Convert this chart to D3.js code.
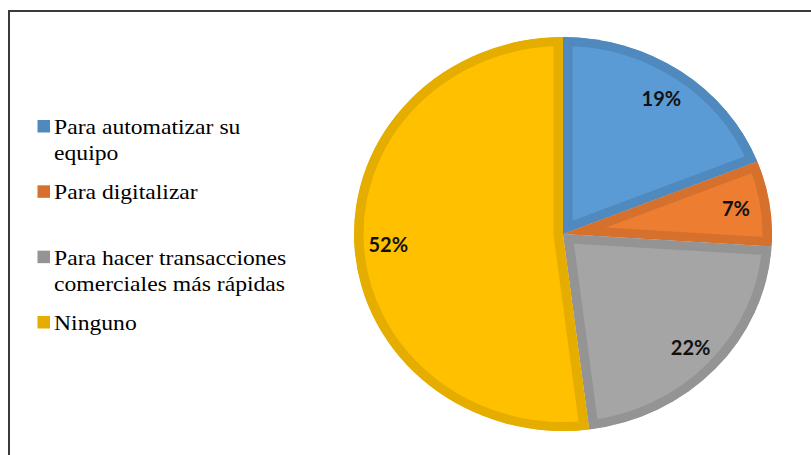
<!DOCTYPE html>
<html>
<head>
<meta charset="utf-8">
<script src="https://cdn.jsdelivr.net/npm/d3@7"></script>
<style>
  html, body { margin: 0; padding: 0; background: #fff; }
  svg { display: block; }
  svg text.legend-text, svg text.legend-text tspan {
    font-family: "Liberation Serif", Tinos, "Times New Roman", serif !important;
  }
</style>
</head>
<body>
<svg id="chart" width="811" height="455"></svg>
<script>
// Motivos de uso — porcentaje de respuestas
const categories = [
  "Para automatizar su equipo",
  "Para digitalizar",
  "Para hacer transacciones comerciales más rápidas",
  "Ninguno"
];
const legendLines = [
  ["Para automatizar su", "equipo"],
  ["Para digitalizar"],
  ["Para hacer transacciones", "comerciales más rápidas"],
  ["Ninguno"]
];
const values = [19, 7, 22, 52];
const fillColors = ["#5B9BD5", "#ED7D31", "#A5A5A5", "#FFC000"];
const edgeColors = ["#4F89BE", "#D5712D", "#949494", "#E5AD00"];

const svg = d3.select("#chart");

// outer frame (extends beyond the right and bottom edges)
svg.append("rect")
  .attr("x", 9).attr("y", 11)
  .attr("width", 900).attr("height", 900)
  .attr("fill", "none")
  .attr("stroke", "#3a3a3a")
  .attr("stroke-width", 2);

// pie geometry
const cx = 563, cy = 234;
const r = 197, stretchX = 209 / 197;
const labelR = 165;

const pie = d3.pie().value(d => d).sort(null);
const arcs = pie(values);
const arc = d3.arc().innerRadius(0).outerRadius(r);

const defs = svg.append("defs");
const pieG = svg.append("g")
  .attr("transform", `translate(${cx},${cy}) scale(${stretchX},1)`);

arcs.forEach((a, i) => {
  defs.append("clipPath").attr("id", "slice-clip-" + i)
    .append("path").attr("d", arc(a));
});

// each slice: fill plus an inner border of a darker tone
pieG.selectAll("path.slice")
  .data(arcs)
  .join("path")
  .attr("class", "slice")
  .attr("d", arc)
  .attr("fill", (d, i) => fillColors[i])
  .attr("stroke", (d, i) => edgeColors[i])
  .attr("stroke-width", 18)
  .attr("stroke-linejoin", "miter")
  .attr("clip-path", (d, i) => `url(#slice-clip-${i})`);

// percentage labels
const labelArc = d3.arc().innerRadius(labelR).outerRadius(labelR);
svg.selectAll("text.pct")
  .data(arcs)
  .join("text")
  .attr("class", "pct")
  .attr("x", d => cx + labelArc.centroid(d)[0] * stretchX)
  .attr("y", d => cy + labelArc.centroid(d)[1])
  .attr("text-anchor", "middle")
  .attr("dominant-baseline", "central")
  .style("font-family", "Lato")
  .style("font-weight", "bold")
  .style("font-size", "20px")
  .attr("fill", "#111")
  .text(d => d.data + "%");

// legend
const legendY = d3.scalePoint().domain(categories).range([134, 330]);
const legend = svg.selectAll("g.legend-item")
  .data(categories)
  .join("g")
  .attr("class", "legend-item")
  .attr("transform", d => `translate(0,${legendY(d)})`);

legend.append("rect")
  .attr("x", 37.5).attr("y", -14)
  .attr("width", 12.5).attr("height", 12.5)
  .attr("fill", (d, i) => edgeColors[i]);

legend.append("text")
  .attr("class", "legend-text")
  .attr("transform", "translate(54,0) scale(1.075,1)")
  .style("font-family", "\"Liberation Serif\", serif", "important")
  .style("font-size", "22px")
  .attr("fill", "#000")
  .selectAll("tspan")
  .data((d, i) => legendLines[i])
  .join("tspan")
  .attr("x", 0)
  .attr("y", (d, j) => j * 26)
  .style("font-family", "\"Liberation Serif\", serif", "important")
  .text(d => d);
</script>
</body>
</html>
